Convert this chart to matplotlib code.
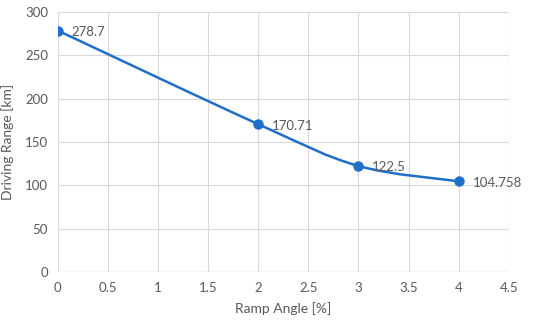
import numpy as np
import matplotlib
matplotlib.use('Agg')
import matplotlib.pyplot as plt
from matplotlib.path import Path
from matplotlib.patches import PathPatch

# chart data
ramp_angle = [0, 2, 3, 4]
driving_range = [278.7, 170.71, 122.5, 104.758]
point_labels = ['278.7', '170.71', '122.5', '104.758']

LINE = '#1F6FC8'
TEXT = '#595959'
GRID = '#D9D9D9'

plt.rcParams['font.family'] = ['Lato', 'DejaVu Sans']
plt.rcParams['path.simplify'] = False


def smooth_path(x, y):
    # excel style smoothed line: catmull-rom segments as cubic bezier
    pts = np.column_stack([x, y]).astype(float)
    n = len(pts)
    verts = [pts[0]]
    codes = [Path.MOVETO]
    for i in range(n - 1):
        p0 = pts[i - 1] if i > 0 else pts[i]
        p1 = pts[i]
        p2 = pts[i + 1]
        p3 = pts[i + 2] if i + 2 < n else pts[i + 1]
        c1 = p1 + (p2 - p0) / 6
        c2 = p2 - (p3 - p1) / 6
        verts += [c1, c2, p2]
        codes += [Path.CURVE4] * 3
    return Path(verts, codes)


fig = plt.figure(figsize=(5.5, 3.27), dpi=100)
ax = fig.add_axes([0.105, 0.168, 0.82, 0.795])

ax.add_patch(PathPatch(smooth_path(ramp_angle, driving_range), fill=False,
                       edgecolor=LINE, lw=1.8, capstyle='round', zorder=3))
ax.plot(ramp_angle, driving_range, 'o', color=LINE, ms=6.5, zorder=4)

for x, y, lab in zip(ramp_angle, driving_range, point_labels):
    ax.annotate(lab, (x, y), xytext=(10, -1), textcoords='offset points',
                va='center', ha='left', fontsize=9.5, color=TEXT, zorder=5)

ax.set_xlim(0, 4.5)
ax.set_ylim(0, 300)
ax.set_xticks(np.arange(0, 4.51, 0.5))
ax.set_yticks(np.arange(0, 301, 50))
ax.set_xticklabels(['0', '0.5', '1', '1.5', '2', '2.5', '3', '3.5', '4', '4.5'])
ax.grid(True, color=GRID, lw=0.8)
ax.set_axisbelow(True)
for s in ax.spines.values():
    s.set_visible(False)
ax.axhline(0, color=GRID, lw=1.0, zorder=1)
ax.tick_params(length=0, labelsize=9.5, labelcolor=TEXT, pad=7)
ax.set_xlabel('Ramp Angle [%]', fontsize=10, color=TEXT, labelpad=6)
ax.set_ylabel('Driving Range [km]', fontsize=10, color=TEXT, labelpad=8)

fig.savefig('out.png', dpi=100)
